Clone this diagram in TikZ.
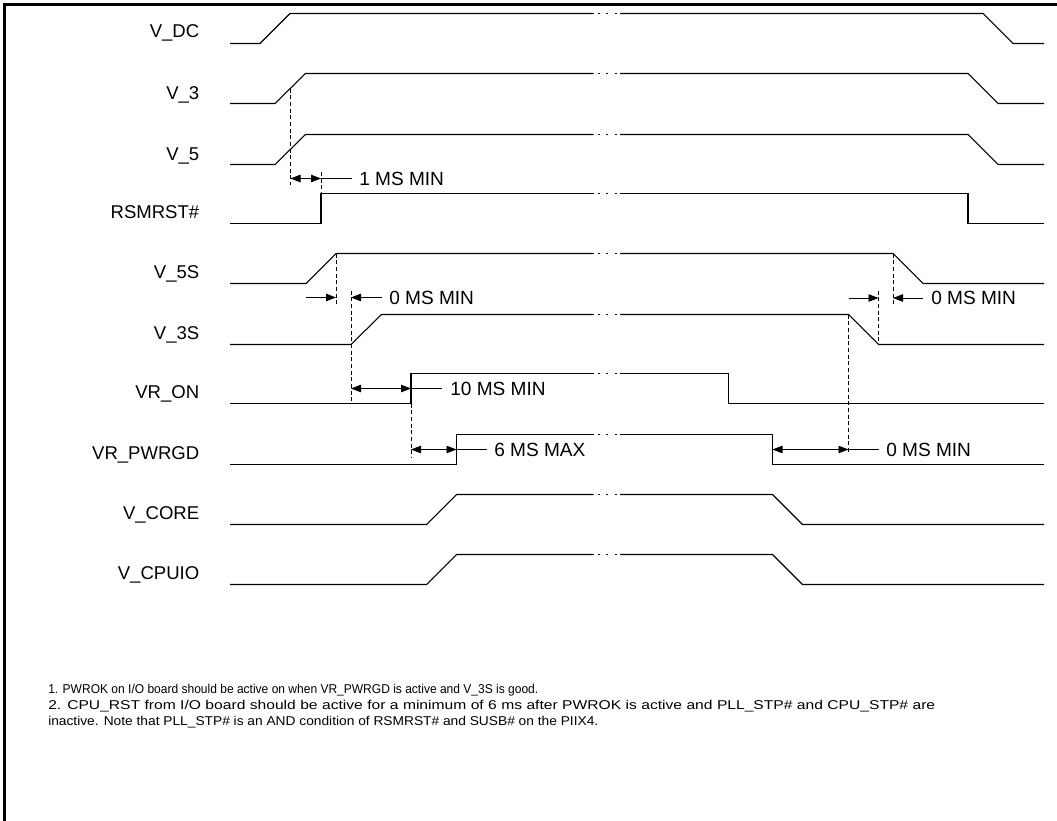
\documentclass[tikz,border=0pt]{standalone}
\usepackage{fontspec}
\setmainfont{Liberation Sans}
\usetikzlibrary{arrows.meta}
\newcommand{\wavebrk}[1]{%
  \foreach \bx in {597.5,606,614.5} {\draw[line width=0.8pt] (\bx,#1) -- ++(2,0);}%
}
\begin{document}
\begin{tikzpicture}[x=0.75pt,y=-0.75pt,
  >={Triangle[length=7.5pt,width=5.6pt]},
  wave/.style={line width=0.8pt, line join=miter},
  guide/.style={line width=0.6pt, dash pattern=on 3pt off 2pt},
  dim/.style={line width=0.6pt},
  sig/.style={anchor=base east, inner sep=0pt, font=\fontsize{13.9pt}{16pt}\selectfont},
  tlab/.style={anchor=west, inner sep=0pt, font=\fontsize{14.3pt}{16pt}\selectfont},
  note/.style={anchor=base west, inner sep=0pt, font=\fontsize{9.6pt}{12pt}\selectfont}]
\useasboundingbox (0,0) rectangle (1057,821);
% frame
\draw[line width=2pt] (4.5,821) -- (4.5,4.5) -- (1057,4.5);

% signal names
\node[sig] (lvdc)   at (199.5,37.5)  {V\_DC};
\node[sig] (lv3)    at (199.5,99)    {V\_3};
\node[sig] (lv5)    at (199.5,160)   {V\_5};
\node[sig] (lrsm)   at (199.5,218)   {RSMRST\#};
\node[sig] (lv5s)   at (199.5,278.5) {V\_5S};
\node[sig] (lv3s)   at (199.5,339)   {V\_3S};
\node[sig] (lvron)  at (199.5,398.5) {VR\_ON};
\node[sig] (lvrpg)  at (199.5,459)   {VR\_PWRGD};
\node[sig] (lvcore) at (199.5,519)   {V\_CORE};
\node[sig] (lvcpu)  at (199.5,579)   {V\_CPUIO};

% waveforms
\draw[wave] (230,43.5) -- (260,43.5) -- (290,13.5) -- (593.5,13.5) (620,13.5) -- (983,13.5) -- (1013,43.5) -- (1044,43.5);
\wavebrk{13.5}
\draw[wave] (230,103.5) -- (275,103.5) -- (305.5,73.5) -- (593.5,73.5) (620,73.5) -- (968,73.5) -- (998,103.5) -- (1044,103.5);
\wavebrk{73.5}
\draw[wave] (230,164.5) -- (275,164.5) -- (305.5,134.5) -- (593.5,134.5) (620,134.5) -- (968,134.5) -- (998,164.5) -- (1044,164.5);
\wavebrk{134.5}
\draw[wave] (230,223.5) -- (321,223.5) -- (321,193.5) -- (593.5,193.5) (620,193.5) -- (968,193.5) -- (968,223.5) -- (1044,223.5);
\wavebrk{193.5}
\draw[wave] (230,283.5) -- (306,283.5) -- (336,253.5) -- (593.5,253.5) (620,253.5) -- (893,253.5) -- (923,283.5) -- (1044,283.5);
\wavebrk{253.5}
\draw[wave] (230,344.5) -- (351,344.5) -- (381.5,314.5) -- (593.5,314.5) (620,314.5) -- (848.5,314.5) -- (878.5,344.5) -- (1044,344.5);
\wavebrk{314.5}
\draw[wave] (230,403.5) -- (411,403.5) -- (411,373.5) -- (593.5,373.5) (620,373.5) -- (728.5,373.5) -- (728.5,403.5) -- (1044,403.5);
\wavebrk{373.5}
\draw[wave] (230,464.5) -- (456.5,464.5) -- (456.5,434.5) -- (593.5,434.5) (620,434.5) -- (772.5,434.5) -- (772.5,464.5) -- (1044,464.5);
\wavebrk{434.5}
\draw[wave] (230,524.5) -- (426.5,524.5) -- (456.5,494.5) -- (593.5,494.5) (620,494.5) -- (772.5,494.5) -- (802.5,524.5) -- (1044,524.5);
\wavebrk{494.5}
\draw[wave] (230,584.5) -- (426.5,584.5) -- (456.5,554.5) -- (593.5,554.5) (620,554.5) -- (772.5,554.5) -- (802.5,584.5) -- (1044,584.5);
\wavebrk{554.5}

% dashed guides
\draw[guide] (290.5,88.5) -- (290.5,185);
\draw[guide] (321,172) -- (321,193.5);
\draw[guide] (336,253.5) -- (336,306);
\draw[guide] (351,290.5) -- (351,403.5);
\draw[guide] (411,403.5) -- (411,457);
\draw[guide] (893,253.5) -- (893,306);
\draw[guide] (878.5,290.5) -- (878.5,344.5);
\draw[guide] (848.5,314.5) -- (848.5,453.5);

% timing dimensions
\coordinate (a1) at (290.5,178.5); \coordinate (b1) at (321,178.5);
\draw[dim,<->] (a1) -- (b1);
\draw[dim] (b1) -- (352,178.5);
\node[tlab] (t1) at (359,178.5) {1 MS MIN};

\coordinate (a2) at (306,297.5); \coordinate (b2) at (336,297.5);
\draw[dim,->] (a2) -- (b2);
\coordinate (c2) at (351,297.5);
\draw[dim,<-] (c2) -- (381.5,297.5);
\node[tlab] (t2) at (389,297.5) {0 MS MIN};

\coordinate (a3) at (848.5,298); \coordinate (b3) at (878.5,298);
\draw[dim,->] (a3) -- (b3);
\coordinate (c3) at (893,298);
\draw[dim,<-] (c3) -- (923,298);
\node[tlab] (t3) at (931,298) {0 MS MIN};

\coordinate (a4) at (351,388.5); \coordinate (b4) at (411,388.5);
\draw[dim,<->] (a4) -- (b4);
\draw[dim] (b4) -- (442,388.5);
\node[tlab] (t4) at (450,388.5) {10 MS MIN};

\coordinate (a5) at (411,449.5); \coordinate (b5) at (456.5,449.5);
\draw[dim,<->] (a5) -- (b5);
\draw[dim] (b5) -- (487,449.5);
\node[tlab] (t5) at (494,449.5) {6 MS MAX};

\coordinate (a6) at (772.5,449.5); \coordinate (b6) at (848.5,449.5);
\draw[dim,<->] (a6) -- (b6);
\draw[dim] (b6) -- (878.5,449.5);
\node[tlab] (t6) at (886,449.5) {0 MS MIN};

% notes
\node[note] (note1) at (48,693.5) {\resizebox{367.5pt}{\height}{1. PWROK on I/O board should be active on when VR\_PWRGD is active and V\_3S is good.}};
\node[note] (note2) at (48,709.5) {\resizebox{665.25pt}{\height}{\makebox[545pt][s]{2. CPU\_RST from I/O board should be active for a minimum of 6 ms after PWROK is active and PLL\_STP\# and CPU\_STP\# are}}};
\node[note] (note3) at (48,725.5) {\resizebox{412.5pt}{\height}{inactive. Note that PLL\_STP\# is an AND condition of RSMRST\# and SUSB\# on the PIIX4.}};
\end{tikzpicture}
\end{document}
